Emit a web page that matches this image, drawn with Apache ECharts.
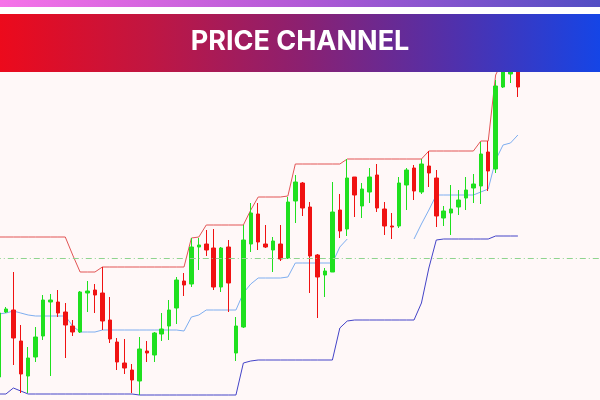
<!DOCTYPE html>
<html><head><meta charset="utf-8">
<script src="https://cdn.jsdelivr.net/npm/echarts@6/dist/echarts.min.js"></script>
<style>html,body{margin:0;padding:0;background:#fff8f8}#c{width:600px;height:400px}</style>
</head><body><div id="c"></div>
<script>
const title = 'PRICE CHANNEL';
const bars = ['1','2','3','4','5','6','7','8','9','10','11','12','13','14','15','16','17','18','19','20',
  '21','22','23','24','25','26','27','28','29','30','31','32','33','34','35','36','37','38','39','40',
  '41','42','43','44','45','46','47','48','49','50','51','52','53','54','55','56','57','58','59','60',
  '61','62','63','64','65','66','67','68','69','70','71'];
const open = [23,88,90,59,24,43,64,98,98,88, 74,68,107,110,107,80,58,37,30,19,
  49,45,66,74,92,119,116,153,156,152, 113,153,47,73,156,186,156,150,156,142,
  199,217,193,145,125,128,190,171,223,194, 208,225,191,174,174,215,232,208,234,222,
  182,187,193,202,212,214,248,231,313,326, 332];
const close = [87,91,62,26,42,63,100,100,87,75, 68,108,109,105,79,61,38,32,20,51,
  47,67,71,90,120,115,153,155,150,113, 152,117,74,160,187,158,153,159,141,198,
  218,192,144,123,129,188,169,222,205,211, 223,192,174,173,217,230,209,236,227,184,
  189,191,200,210,216,246,229,314,340,330, 313];
const low = [15,87,35,7,7,38,60,24,83,42, 64,67,88,87,70,57,30,26,7,5,
  38,38,59,60,76,104,113,130,144,110, 108,88,39,72,148,150,152,128,139,141,
  177,184,107,82,103,128,162,164,183,182, 197,188,165,161,172,190,200,206,213,173,
  174,165,185,190,197,196,209,227,312,317, 303];
const high = [92,93,128,75,53,73,105,106,110,97, 80,109,119,116,133,103,62,61,36,63,
  59,68,87,100,123,127,162,162,170,171, 153,160,83,175,197,197,175,163,175,203,
  225,218,198,146,132,218,206,241,223,217, 232,236,198,187,223,232,235,241,249,230,
  194,215,210,223,226,258,259,320,345,338, 338];
const upperChannel = [163,163,163,163,163,163,163,163,163,163, 145,128,128,128,133,133,133,133,133,133,
  133,133,133,133,133,133,162,163,175,175, 175,175,175,175,190,203,203,203,203,204,
  236,236,236,236,236,236,236,241,241,241, 241,241,241,241,241,241,241,241,249,249,
  249,249,249,249,249,259,259,325,340,340, 340];
const innerLine = [86,87,89,87,85,84,84,84,84,84, 74,68,68,68,70,70,70,70,70,70,
  70,70,70,70,70,69,83,85,90,90, 90,90,90,107,116,122,122,122,122,123,
  137,137,137,137,137,137,153,161,null,null, null,null,null,null,null,null,161,176,190,205,
  205,205,205,205,205,208,211,240,255,257, 265];
const lowerChannel = [6,6,12,9,6,6,6,6,6,6, 6,6,6,6,6,6,6,6,6,5,
  5,5,5,5,5,5,5,5,5,5, 5,5,5,37,39,40,40,40,40,40,
  40,40,40,40,40,40,72,79,80,80, 80,80,80,80,80,80,80,97,132,160,
  161,161,161,161,161,161,161,164,164,164, 164];
const levelLine = 142;

const axisCats = bars.concat(new Array(11).fill(''));
const kData = bars.map((b, i) => [open[i], close[i], low[i], high[i]]);

const chart = echarts.init(document.getElementById('c'), null, {renderer: 'canvas'});
const lineSeries = (name, data, color, z) => ({
  name, type: 'line', data, symbol: 'none', showSymbol: false, connectNulls: false, z,
  lineStyle: {color, width: 1}, silent: true
});
chart.setOption({
  animation: false,
  backgroundColor: '#fff8f8',
  grid: {left: -5.21, width: 608.44, top: 0, height: 400, containLabel: false, outerBoundsMode: 'none'},
  xAxis: {type: 'category', data: axisCats, boundaryGap: true, show: false},
  yAxis: {type: 'value', min: 0, max: 400, show: false, splitLine: {show: false}},
  series: [
    Object.assign(lineSeries('Upper', upperChannel, '#e25555', 1), {
      markLine: {silent: true, symbol: 'none', label: {show: false},
        lineStyle: {color: '#8fd48f', width: 1, type: [6, 3, 1, 3]},
        data: [{yAxis: levelLine}]}
    }),
    lineSeries('Inner', innerLine, '#7eaef0', 1),
    lineSeries('Lower', lowerChannel, '#4444c8', 1),
    {
      type: 'candlestick', data: kData, barWidth: 4, z: 3,
      itemStyle: {color: '#1fe01f', color0: '#f01212', borderColor: '#1fe01f', borderColor0: '#f01212', borderWidth: 1}
    }
  ],
  graphic: [
    {type: 'rect', z: 100, shape: {x: 0, y: 0, width: 600, height: 7},
      style: {fill: new echarts.graphic.LinearGradient(0, 0, 1, 0, [
        {offset: 0, color: '#f672e8'}, {offset: 0.5, color: '#b25ad6'}, {offset: 1, color: '#524ec4'}])}},
    {type: 'rect', z: 100, shape: {x: 0, y: 7, width: 600, height: 7}, style: {fill: '#ffffff'}},
    {type: 'rect', z: 100, shape: {x: 0, y: 14, width: 600, height: 58},
      style: {fill: new echarts.graphic.LinearGradient(0, 0, 1, 0, [
        {offset: 0, color: '#ec0a1c'}, {offset: 0.25, color: '#c01642'}, {offset: 0.5, color: '#8c2070'},
        {offset: 0.75, color: '#5230aa'}, {offset: 1, color: '#1545e6'}])}},
    {type: 'text', z: 101, x: 300, y: 42,
      style: {text: title, fill: '#ffffff', font: 'bold 27px Inter', align: 'center', verticalAlign: 'middle'}}
  ]
});
</script></body></html>
